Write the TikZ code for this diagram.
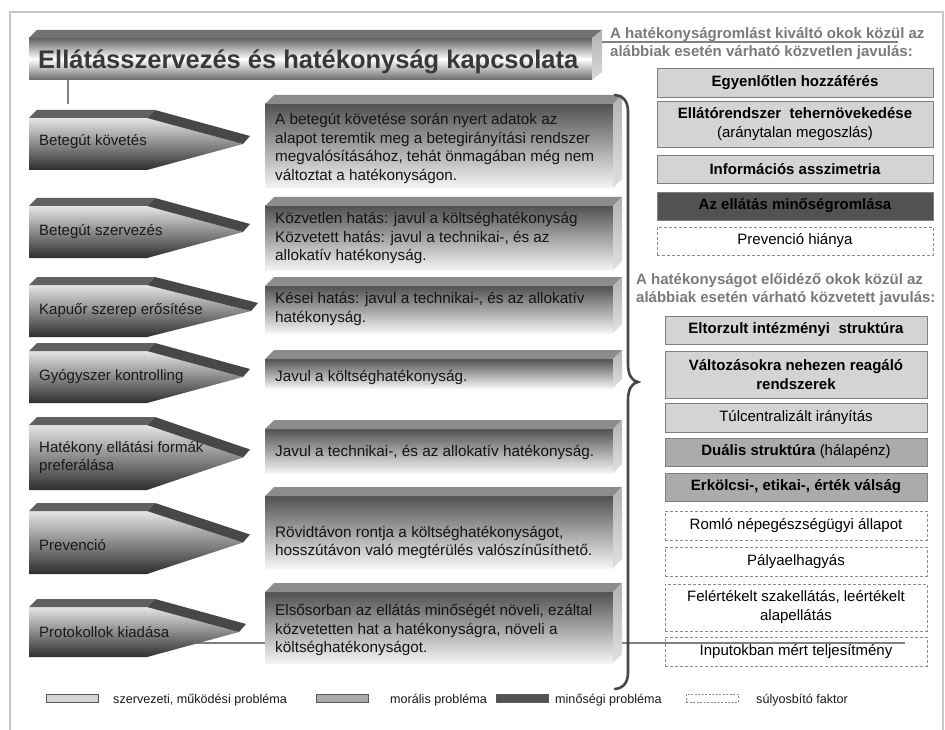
\documentclass[tikz,border=0pt]{standalone}
\usepackage{fontspec}
\setmainfont{Liberation Sans}
\newcommand\arrowpiece[3]{%
  \pgfmathsetmacro\am{(#1+#2)/2}%
  \shade[top color=black!10, bottom color=black!82] (29,#1) -- (147,#1) -- (#3,\am) -- (147,#2) -- (29,#2) -- cycle;
  \fill[black!62] (29,#1) -- (37,#1-8) -- (155,#1-8) -- (147,#1) -- cycle;
  \fill[black!72] (147,#1) -- (155,#1-8) -- ({#3+7},\am-8) -- (#3,\am) -- cycle;
}
\newcommand\boxpiece[2]{%
  \shade[top color=black!68, bottom color=black!4] (265,#1+9) rectangle (613,#2);
  \fill[black!45] (265,#1+9) -- (274,#1) -- (622,#1) -- (613,#1+9) -- cycle;
  \shade[top color=black!30, bottom color=black!12] (613,#1+9) -- (622,#1) -- (622,#2-9) -- (613,#2) -- cycle;
}
\begin{document}
\begin{tikzpicture}[x=1pt,y=-1pt,
  lbl/.style={inner sep=0pt, anchor=west, align=left, text=black!90, font=\fontsize{15}{18}\selectfont},
  boxtxt/.style={inner sep=0pt, anchor=west, align=left, text=black!92, font=\fontsize{15.3}{18.5}\selectfont},
  rbox/.style={draw=black!50, line width=0.8pt, inner sep=0pt, align=center, text=black, font=\fontsize{15}{19}\selectfont},
  orgbox/.style={rbox, fill=black!17},
  morbox/.style={rbox, fill=black!33},
  qualbox/.style={rbox, fill=black!68},
  aggbox/.style={rbox, draw=black!45, dash pattern=on 3pt off 2pt},
  topgrp/.style={minimum width=276pt},
  botgrp/.style={minimum width=262pt},
  hdr/.style={inner sep=0pt, anchor=west, align=left, text=black!52, font=\bfseries\fontsize{15}{18}\selectfont},
  legtxt/.style={inner sep=0pt, anchor=west, text=black!90, font=\fontsize{12.6}{14}\selectfont},
  legbox/.style={draw=black!65, line width=0.8pt, minimum width=52pt, minimum height=8pt, inner sep=0pt},
  conn/.style={draw=black!50, line width=1.5pt},
]
\useasboundingbox (0,0) rectangle (945,730);
\fill[white] (0,0) rectangle (945,730);
% frame
\draw[black!22, line width=2pt] (10,740) -- (10,12) -- (943,12) -- (943,740);

% connectors behind shapes
\coordinate (tb) at (68,80);
\coordinate (te) at (68,104);
\draw[conn] (tb) -- (te);
\coordinate (ul1) at (602,42);
\coordinate (ul2) at (898,42);
\draw[conn] (ul1) -- (ul2);
\coordinate (hl1) at (173,643);
\coordinate (hl2) at (905,643);
\draw[conn] (hl1) -- (hl2);

% title bar
\shade[top color=black!62, bottom color=black!58, middle color=white] (29,38) rectangle (592,80);
\fill[black!55] (29,38) -- (37,30) -- (602,30) -- (592,38) -- cycle;
\shade[top color=black!30, bottom color=black!15] (592,38) -- (602,30) -- (602,72) -- (592,80) -- cycle;
\node[inner sep=0pt, anchor=base west, text=black!78, font=\bfseries\fontsize{25.5}{28}\selectfont] (title) at (38,69) {Ellátásszervezés és hatékonyság kapcsolata};

% left arrows
\arrowpiece{118}{170}{243}
\arrowpiece{206}{258}{243}
\arrowpiece{285}{337}{251}
\arrowpiece{351}{403}{243}
\arrowpiece{425}{490}{243}
\arrowpiece{511}{574}{243}
\arrowpiece{607}{657}{239}
\node[lbl] (a1) at (39,142) {Betegút követés};
\node[lbl] (a2) at (39,232) {Betegút szervezés};
\node[lbl] (a3) at (39,311) {Kapuőr szerep erősítése};
\node[lbl] (a4) at (39,377) {Gyógyszer kontrolling};
\node[lbl] (a5) at (39,458) {Hatékony ellátási formák\\preferálása};
\node[lbl] (a6) at (39,545) {Prevenció};
\node[lbl] (a7) at (39,632) {Protokollok kiadása};

% middle boxes
\boxpiece{95}{188}
\boxpiece{197}{270}
\boxpiece{277}{333}
\boxpiece{350}{388}
\boxpiece{420}{473}
\boxpiece{487}{568}
\boxpiece{583}{663}
\node[boxtxt] (b1) at (275,148.5) {A betegút követése során nyert adatok az\\alapot teremtik meg a betegirányítási rendszer\\megvalósításához, tehát önmagában még nem\\változtat a hatékonyságon.};
\node[boxtxt] (b2) at (275,238) {Közvetlen hatás: javul a költséghatékonyság\\Közvetett hatás: javul a technikai-, és az\\allokatív hatékonyság.};
\node[boxtxt] (b3) at (275,309) {Kései hatás: javul a technikai-, és az allokatív\\hatékonyság.};
\node[boxtxt] (b4) at (275,377) {Javul a költséghatékonyság.};
\node[boxtxt] (b5) at (275,452) {Javul a technikai-, és az allokatív hatékonyság.};
\node[boxtxt] (b6) at (275,542.5) {Rövidtávon rontja a költséghatékonyságot,\\hosszútávon való megtérülés valószínűsíthető.};
\node[boxtxt] (b7) at (275,630) {Elsősorban az ellátás minőségét növeli, ezáltal\\közvetetten hat a hatékonyságra, növeli a\\költséghatékonyságot.};

% brace
\draw[black!72, line width=2.6pt, line cap=round]
  (615,95) .. controls (624,96) and (628,102) .. (628,112) -- (628,364)
  .. controls (628,375) and (632,381) .. (638,382)
  .. controls (632,383) and (628,389) .. (628,400) -- (628,672)
  .. controls (628,682) and (624,688) .. (615,689);

% right headers
\node[hdr] (h1) at (610,44) {A hatékonyságromlást kiváltó okok közül az\\alábbiak esetén várható közvetlen javulás:};
\node[hdr] (h2) at (636,290) {A hatékonyságot előidéző okok közül az\\alábbiak esetén várható közvetett javulás:};

% right boxes, top group
\node[orgbox, topgrp, minimum height=29pt] (r1) at (795,82.5) {\bfseries Egyenlőtlen hozzáférés};
\node[orgbox, topgrp, minimum height=46pt] (r2) at (795,124) {{\bfseries Ellátórendszer\ \ tehernövekedése}\\(aránytalan megoszlás)};
\node[orgbox, topgrp, minimum height=28pt] (r3) at (795,169) {\bfseries Információs asszimetria};
\node[qualbox, topgrp, minimum height=28pt] (r4) at (795,206) {\bfseries Az ellátás minőségromlása};
\node[aggbox, topgrp, minimum height=28pt] (r5) at (795,241) {Prevenció hiánya};

% right boxes, bottom group
\node[orgbox, botgrp, minimum height=28pt] (s1) at (796,330) {\bfseries Eltorzult intézményi\ \ struktúra};
\node[orgbox, botgrp, minimum height=47pt] (s2) at (796,374.5) {\bfseries Változásokra nehezen reagáló\\\bfseries rendszerek};
\node[orgbox, botgrp, minimum height=29pt] (s3) at (796,417.5) {Túlcentralizált irányítás};
\node[morbox, botgrp, minimum height=28pt] (s4) at (796,452) {{\bfseries Duális struktúra} (hálapénz)};
\node[morbox, botgrp, minimum height=28pt] (s5) at (796,487) {\bfseries Erkölcsi-, etikai-, érték válság};
\node[aggbox, botgrp, minimum height=29pt] (s6) at (796,525.5) {Romló népegészségügyi állapot};
\node[aggbox, botgrp, minimum height=29pt] (s7) at (796,561.5) {Pályaelhagyás};
\node[aggbox, botgrp, minimum height=47pt] (s8) at (796,607.5) {Felértékelt szakellátás, leértékelt\\alapellátás};
\node[aggbox, botgrp, minimum height=29pt] (s9) at (796,651.5) {Inputokban mért teljesítmény};

% legend
\node[legbox, fill=black!17] (l1) at (72.5,698) {};
\node[legtxt] (lt1) at (113,700) {szervezeti, működési probléma};
\node[legbox, fill=black!33] (l2) at (342,698) {};
\node[legtxt] (lt2) at (390,700) {morális probléma};
\node[legbox, fill=black!68] (l3) at (522,698) {};
\node[legtxt] (lt3) at (555,700) {minőségi probléma};
\node[legbox, draw=black!45, line width=0.6pt, dash pattern=on 2pt off 1.5pt] (l4) at (712,698) {};
\node[legtxt] (lt4) at (756,700) {súlyosbító faktor};
\end{tikzpicture}
\end{document}
